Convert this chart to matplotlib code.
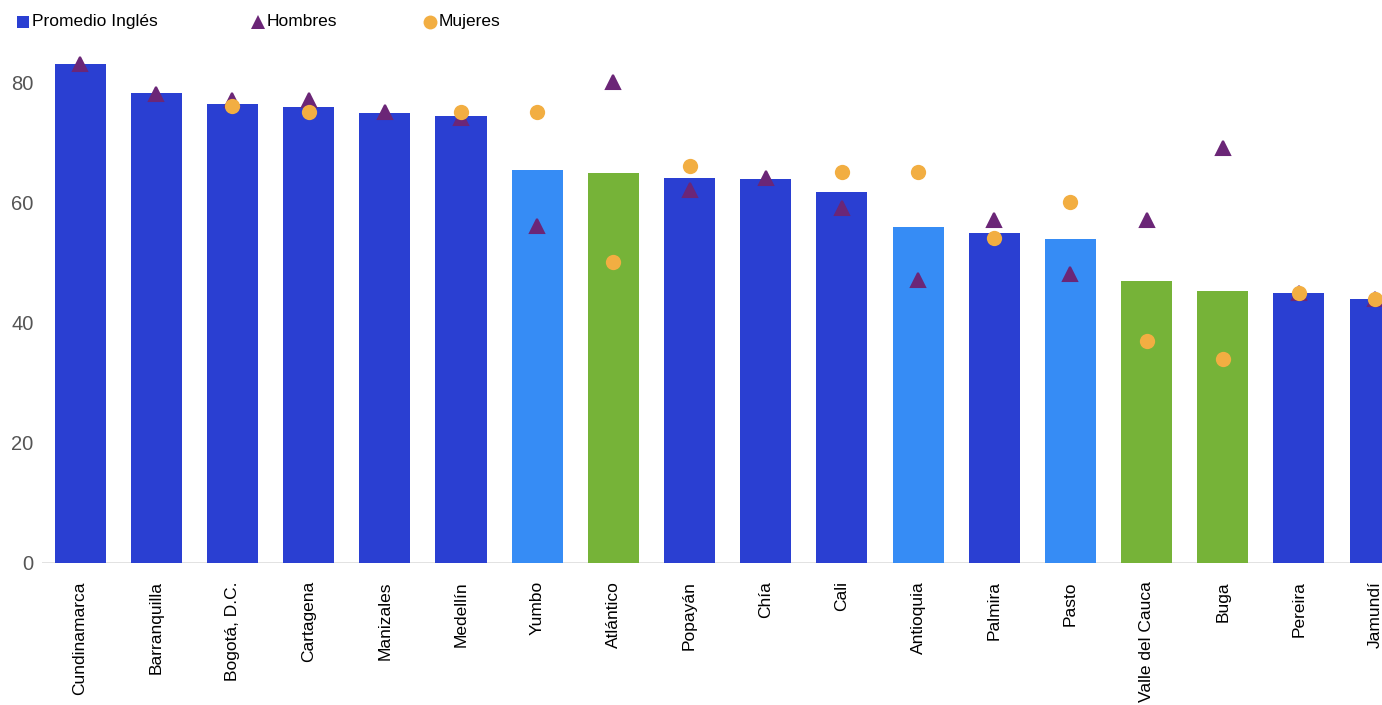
import numpy as np
import matplotlib
matplotlib.use("Agg")
import matplotlib.pyplot as plt
from matplotlib.lines import Line2D

plt.rcParams['font.family'] = ['Liberation Sans', 'DejaVu Sans']

# data
ciudades = ['Cundinamarca', 'Barranquilla', 'Bogotá, D.C.', 'Cartagena', 'Manizales',
            'Medellín', 'Yumbo', 'Atlántico', 'Popayán', 'Chía', 'Cali', 'Antioquia',
            'Palmira', 'Pasto', 'Valle del Cauca', 'Buga', 'Pereira', 'Jamundí']
promedio = [83.0, 78.2, 76.4, 75.9, 74.9, 74.4, 65.4, 64.9, 64.1, 63.9, 61.7, 55.9,
            54.9, 53.9, 46.9, 45.3, 44.9, 43.9]
hombres = [83, 78, 77, 77, 75, 74, 56, 80, 62, 64, 59, 47, 57, 48, 57, 69, 45, 44]
mujeres = [np.nan, np.nan, 76, 75, np.nan, 75, 75, 50, 66, np.nan, 65, 65, 54, 60,
           37, 34, 45, 44]
grupo = ['c', 'c', 'c', 'c', 'c', 'c', 'm', 'd', 'c', 'c', 'c', 'm', 'c', 'm', 'd', 'd', 'c', 'c']

AZUL = '#2a3fd2'
CELESTE = '#368cf5'
VERDE = '#76b338'
MORADO = '#6b2677'
NARANJA = '#f2ae42'
colores = {'c': AZUL, 'm': CELESTE, 'd': VERDE}

fig = plt.figure(figsize=(13.82, 7.05), dpi=100)
ax = fig.add_axes([42 / 1382, 1 - 563 / 705, 1 - 42 / 1382, (563 - 22) / 705])

x = np.arange(len(ciudades))
ax.bar(x, promedio, width=0.67, color=[colores[g] for g in grupo], zorder=2)
ax.plot(x, hombres, linestyle='none', marker='^', ms=10, color=MORADO,
        markeredgewidth=1.5, markeredgecolor=MORADO, zorder=3)
ax.plot(x, mujeres, linestyle='none', marker='o', ms=11, color=NARANJA,
        markeredgewidth=0, zorder=4)

ax.set_xlim(-0.5, 17.09)
ax.set_ylim(0, 90)
ax.set_yticks([0, 20, 40, 60, 80])
ax.set_xticks(x)
ax.set_xticklabels(ciudades, rotation=90, fontsize=12.5, color='black')
ax.tick_params(axis='x', length=0, pad=13)
ax.tick_params(axis='y', length=0, pad=6, labelsize=14.5, labelcolor='#555555')
for s in ax.spines.values():
    s.set_visible(False)
ax.axhline(0, color='#dddddd', lw=1.2, zorder=1)

# leyenda
ly = 1 - 21.5 / 705
items = [('s', AZUL, 'Promedio Inglés', 23), ('^', MORADO, 'Hombres', 258), ('o', NARANJA, 'Mujeres', 430)]
for m, c, t, px in items:
    fig.add_artist(Line2D([px / 1382], [ly], marker=m, color=c, linestyle='none',
                          ms=8 if m == 's' else 10, markeredgewidth=0,
                          transform=fig.transFigure))
    fig.text((px + 9) / 1382, ly, t, fontsize=12.5, va='center', ha='left')

fig.savefig('out.png', dpi=100)
